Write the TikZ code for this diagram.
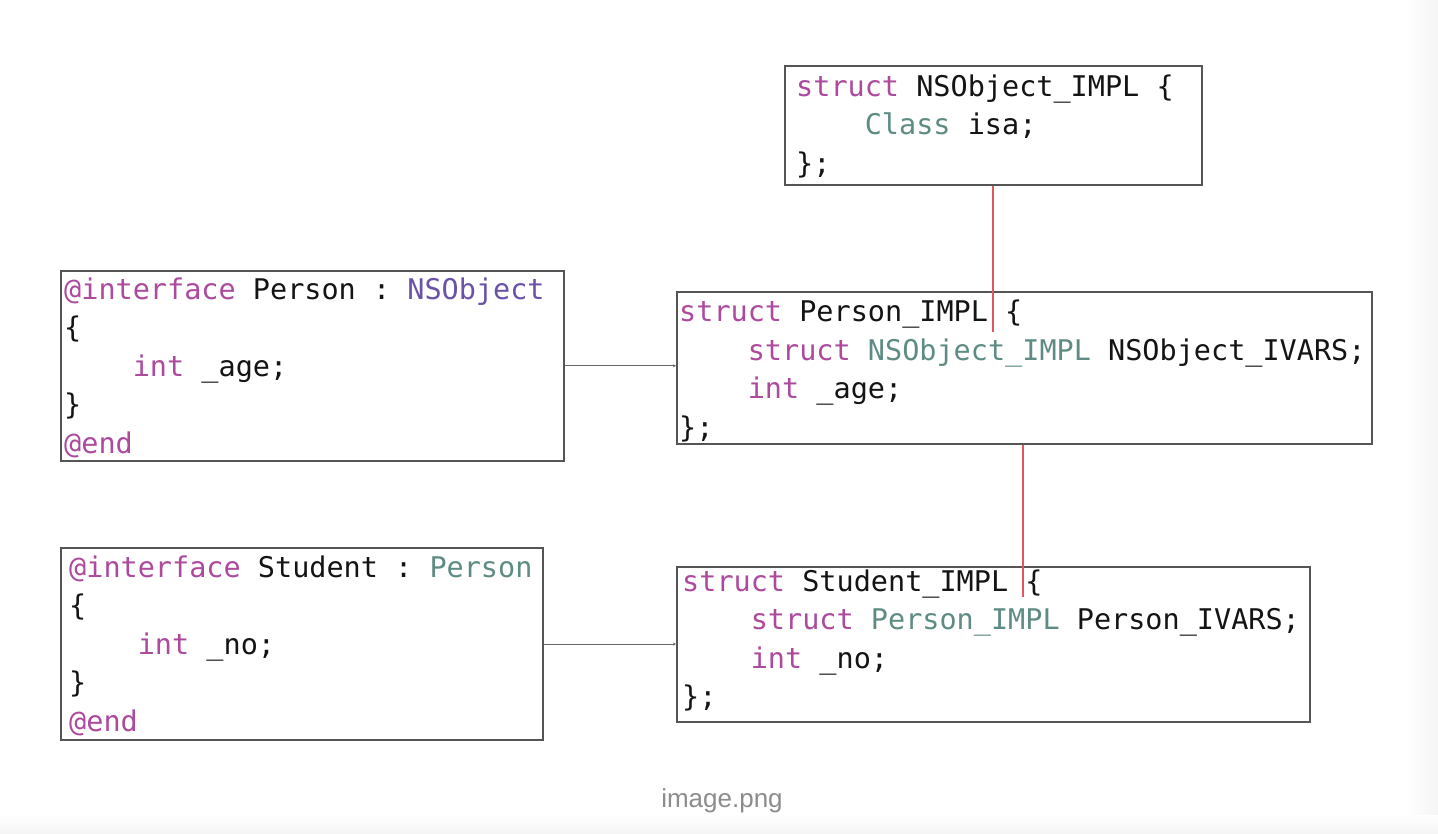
\documentclass[tikz,border=0pt]{standalone}
\usepackage{fontspec}
\setmainfont{Liberation Sans}
\setmonofont{DejaVu Sans Mono}
\usetikzlibrary{arrows.meta}
\definecolor{kw}{HTML}{AD4A9E}
\definecolor{ty}{HTML}{5E8C84}
\definecolor{cl}{HTML}{6B52A8}
\definecolor{tx}{HTML}{141414}
\definecolor{bd}{HTML}{555555}
\definecolor{rl}{HTML}{E0585E}
\definecolor{cap}{HTML}{8C8C8C}
\definecolor{strip}{HTML}{F5F5F5}
\newcommand\IND{\phantom{0000}}
\newcommand\K[1]{\textcolor{kw}{#1}}
\newcommand\T[1]{\textcolor{ty}{#1}}
\newcommand\C[1]{\textcolor{cl}{#1}}
\tikzset{
  codebox/.style={draw=bd, line width=1.6pt, anchor=north west, inner sep=0pt, fill=white},
  code/.style={anchor=west, inner sep=0pt, align=left, text=tx,
    font=\ttfamily\fontsize{28.5}{38.5}\selectfont},
  link/.style={draw=bd!90, line width=1pt, -{Stealth[length=3pt,width=3pt]}},
  redlink/.style={draw=rl, line width=1.3pt}
}
\begin{document}
\begin{tikzpicture}[x=1pt,y=-1pt]
\useasboundingbox (0,0) rectangle (1438,834);
\fill[white] (0,0) rectangle (1438,834);
\shade[left color=white, right color=strip] (1405,0) rectangle (1438,834);
\shade[top color=white, bottom color=white!96!black] (0,815) rectangle (1438,834);

% boxes
\node[codebox, minimum width=417pt, minimum height=119pt] (nsb) at (784,65) {};
\node[codebox, minimum width=695pt, minimum height=152pt] (pib) at (676,291) {};
\node[codebox, minimum width=503pt, minimum height=190pt] (pb) at (60,270) {};
\node[codebox, minimum width=482pt, minimum height=192pt] (sb) at (60,547) {};
\node[codebox, minimum width=633pt, minimum height=155pt] (sib) at (676,566) {};

% code texts
\node[code] (nst) at ([xshift=12pt,yshift=-1pt]nsb.west) {%
\K{struct} NSObject\_IMPL \{\\
\IND\T{Class} isa;\\
\};};
\node[code] (pit) at ([xshift=3pt,yshift=-3pt]pib.west) {%
\K{struct} Person\_IMPL \{\\
\IND\K{struct} \T{NSObject\_IMPL} NSObject\_IVARS;\\
\IND\K{int} \_age;\\
\};};
\node[code] (pt) at ([xshift=4pt,yshift=-2pt]pb.west) {%
\K{@interface} Person : \C{NSObject}\\
\{\\
\IND\K{int} \_age;\\
\}\\
\K{@end}};
\node[code] (st) at ([xshift=9pt,yshift=-2pt]sb.west) {%
\K{@interface} Student : \T{Person}\\
\{\\
\IND\K{int} \_no;\\
\}\\
\K{@end}};
\node[code] (sit) at ([xshift=6pt,yshift=4pt]sib.west) {%
\K{struct} Student\_IMPL \{\\
\IND\K{struct} \T{Person\_IMPL} Person\_IVARS;\\
\IND\K{int} \_no;\\
\};};

% connectors
\draw[link] (pb.east) -- (pb.east -| pib.west);
\draw[link] (sb.east |- 0,644) -- (sib.west |- 0,644);
\coordinate (r1) at (993,332);
\coordinate (r2) at (1023,597);
\draw[redlink] (nsb.south -| r1) -- (r1);
\draw[redlink] (pib.south -| r2) -- (r2);

% caption
\node[text=cap, font=\fontsize{26}{30}\selectfont, inner sep=0pt] (capt) at (722,801) {image.png};
\end{tikzpicture}
\end{document}
